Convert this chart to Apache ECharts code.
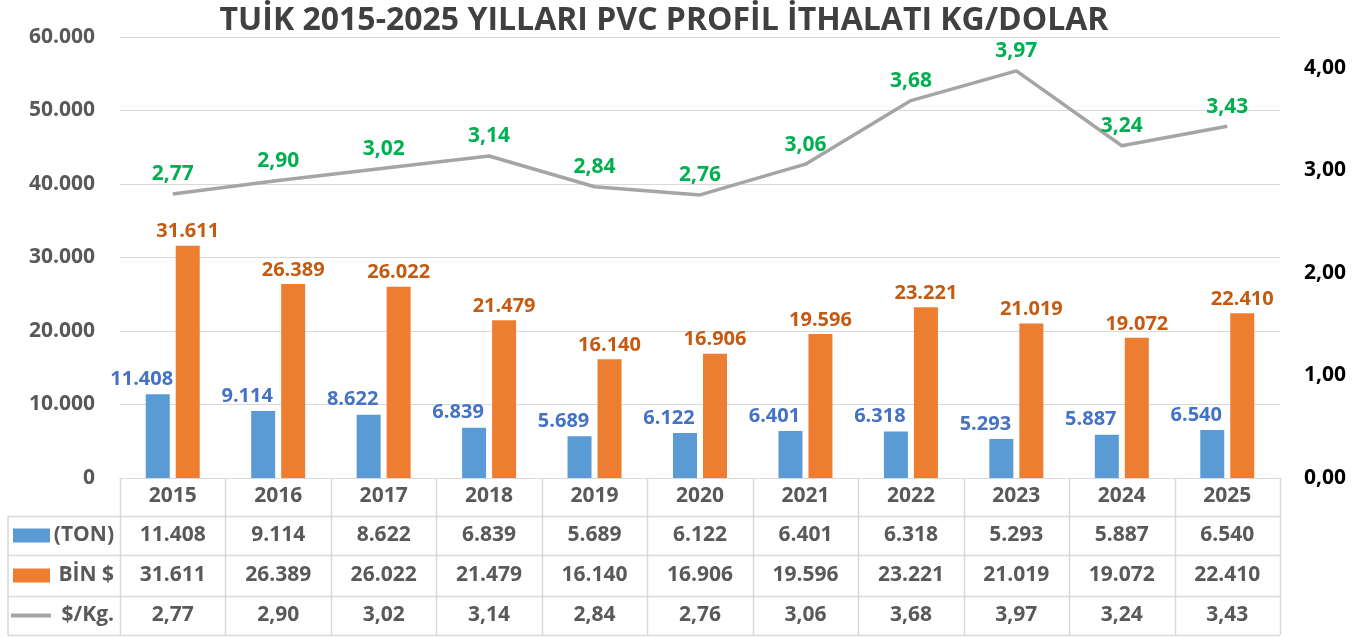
<!DOCTYPE html>
<html>
<head>
<meta charset="utf-8">
<script src="https://cdn.jsdelivr.net/npm/echarts@6/dist/echarts.min.js"></script>
<style>
  html, body { margin: 0; padding: 0; background: #fff; }
  #chart { width: 1364px; height: 638px; }
</style>
</head>
<body>
<div id="chart"></div>
<script>
// veriler
var years = ['2015', '2016', '2017', '2018', '2019', '2020', '2021', '2022', '2023', '2024', '2025'];
var tonValues = [11408, 9114, 8622, 6839, 5689, 6122, 6401, 6318, 5293, 5887, 6540];
var binDolarValues = [31611, 26389, 26022, 21479, 16140, 16906, 19596, 23221, 21019, 19072, 22410];
var dolarPerKg = [2.77, 2.90, 3.02, 3.14, 2.84, 2.76, 3.06, 3.68, 3.97, 3.24, 3.43];
var seriesNames = ['(TON)', 'BİN $', '$/Kg.'];
var colors = ['#5B9BD5', '#ED7D31', '#A5A5A5'];

var FONT = 'Open Sans';

function fmtInt(v) {
  return String(Math.round(v)).replace(/\B(?=(\d{3})+(?!\d))/g, '.');
}
function fmtDec(v) {
  return v.toFixed(2).replace('.', ',');
}

var mychart = echarts.init(document.getElementById('chart'));

var option = {
  backgroundColor: '#fff',
  animation: false,
  title: {
    text: 'TUİK 2015-2025 YILLARI PVC PROFİL İTHALATI KG/DOLAR',
    left: 659,
    textAlign: 'center',
    top: 0,
    textStyle: {
      fontFamily: FONT,
      fontSize: 32,
      fontWeight: 'bold',
      color: '#404040'
    }
  },
  grid: { left: 120, right: 84, top: 37, bottom: 160 },
  xAxis: {
    type: 'category',
    data: years,
    axisLine: { lineStyle: { color: '#D9D9D9', width: 1 } },
    axisTick: { show: false },
    axisLabel: {
      margin: 8,
      fontFamily: FONT,
      fontSize: 21,
      fontWeight: 'bold',
      color: '#595959'
    }
  },
  yAxis: [{
    type: 'value',
    min: 0,
    max: 60000,
    interval: 10000,
    axisLine: { show: false },
    axisTick: { show: false },
    splitLine: { lineStyle: { color: '#D9D9D9', width: 1 } },
    axisLabel: {
      margin: 25,
      fontFamily: FONT,
      fontSize: 21,
      fontWeight: 'bold',
      color: '#595959',
      formatter: function (v) { return fmtInt(v); }
    }
  }, {
    type: 'value',
    min: 0,
    max: 4.3,
    interval: 1,
    axisLine: { show: false },
    axisTick: { show: false },
    splitLine: { show: false },
    axisLabel: {
      margin: 24,
      fontFamily: FONT,
      fontSize: 21,
      fontWeight: 'bold',
      color: '#000',
      showMaxLabel: false,
      formatter: function (v) { return v > 4.05 ? '' : fmtDec(v); }
    }
  }],
  series: [{
    name: seriesNames[0],
    type: 'bar',
    data: tonValues,
    barWidth: 24,
    barGap: '25%',
    itemStyle: { color: colors[0] },
    label: {
      show: true,
      position: 'top',
      distance: 5,
      offset: [-16, 0],
      fontFamily: FONT,
      fontSize: 20,
      fontWeight: 'bold',
      color: '#4472C4',
      formatter: function (p) { return fmtInt(p.value); }
    }
  }, {
    name: seriesNames[1],
    type: 'bar',
    data: binDolarValues,
    barWidth: 24,
    itemStyle: { color: colors[1] },
    label: {
      show: true,
      position: 'top',
      distance: 4,
      fontFamily: FONT,
      fontSize: 20,
      fontWeight: 'bold',
      color: '#C55A11',
      formatter: function (p) { return fmtInt(p.value); }
    }
  }, {
    name: seriesNames[2],
    type: 'line',
    yAxisIndex: 1,
    data: dolarPerKg,
    symbol: 'circle',
    symbolSize: 2,
    showSymbol: true,
    showAllSymbol: true,
    itemStyle: { color: 'rgba(0,0,0,0)' },
    lineStyle: { color: colors[2], width: 3.5 },
    label: {
      show: true,
      position: 'top',
      distance: 8,
      fontFamily: FONT,
      fontSize: 21,
      fontWeight: 'bold',
      color: '#00B050',
      formatter: function (p) { return fmtDec(p.value); }
    }
  }]
};

mychart.setOption(option);

// tablo
function drawTable() {
  var n = years.length;
  var x0 = mychart.convertToPixel({ xAxisIndex: 0 }, 0);
  var x1 = mychart.convertToPixel({ xAxisIndex: 0 }, 1);
  var band = x1 - x0;
  var left = x0 - band / 2;
  var top = mychart.convertToPixel({ yAxisIndex: 0 }, 0);
  var outerLeft = 8;
  var rowTops = [top, top + 38, top + 77, top + 118, top + 157];
  var lineStyle = { stroke: '#D9D9D9', lineWidth: 1.5 };
  var g = [];

  // dikey cizgiler
  for (var i = 0; i <= n; i++) {
    var x = Math.round(left + i * band) + 0.5;
    g.push({ type: 'line', shape: { x1: x, y1: rowTops[0], x2: x, y2: rowTops[4] }, style: lineStyle, silent: true });
  }
  g.push({ type: 'line', shape: { x1: outerLeft, y1: rowTops[1], x2: outerLeft, y2: rowTops[4] }, style: lineStyle, silent: true });

  // yatay cizgiler
  for (var r = 1; r <= 4; r++) {
    var y = Math.round(rowTops[r]) + 0.5;
    g.push({ type: 'line', shape: { x1: outerLeft, y1: y, x2: left + n * band, y2: y }, style: lineStyle, silent: true });
  }

  var rows = [
    tonValues.map(fmtInt),
    binDolarValues.map(fmtInt),
    dolarPerKg.map(fmtDec)
  ];
  for (var r2 = 0; r2 < 3; r2++) {
    var cy = (rowTops[r2 + 1] + rowTops[r2 + 2]) / 2;
    for (var c = 0; c < n; c++) {
      g.push({
        type: 'text',
        x: left + (c + 0.5) * band,
        y: cy,
        style: {
          text: rows[r2][c],
          fontFamily: FONT,
          fontSize: 21,
          fontWeight: 'bold',
          fill: '#595959',
          align: 'center',
          verticalAlign: 'middle'
        },
        silent: true
      });
    }
    // gosterge
    if (r2 < 2) {
      g.push({ type: 'rect', shape: { x: 13, y: cy - 7, width: 37, height: 14 }, style: { fill: colors[r2] }, silent: true });
    } else {
      g.push({ type: 'line', shape: { x1: 11, y1: cy, x2: 51, y2: cy }, style: { stroke: colors[2], lineWidth: 4 }, silent: true });
    }
    g.push({
      type: 'text',
      x: 114,
      y: cy,
      style: {
        text: seriesNames[r2],
        fontFamily: FONT,
        fontSize: 21,
        fontWeight: 'bold',
        fill: '#595959',
        align: 'right',
        verticalAlign: 'middle'
      },
      silent: true
    });
  }
  mychart.setOption({ graphic: { elements: g } });
}
drawTable();
</script>
</body>
</html>
